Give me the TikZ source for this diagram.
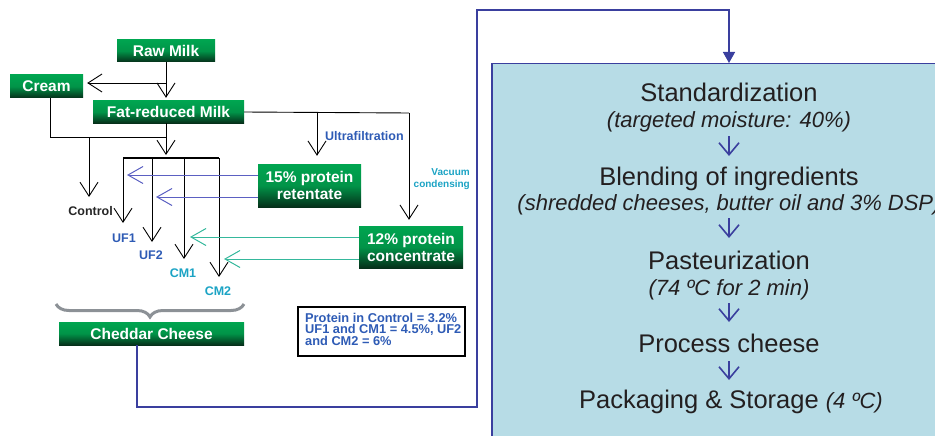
\documentclass[tikz,border=0pt]{standalone}
\usepackage{fontspec}
\setmainfont{Liberation Sans}
\usetikzlibrary{arrows.meta,decorations.pathreplacing}
\definecolor{gtop}{HTML}{00A550}
\definecolor{gbot}{HTML}{05301A}
\definecolor{lblue}{HTML}{2E5BB5}
\definecolor{lcyan}{HTML}{1BA3C4}
\definecolor{ablue}{HTML}{5B60C2}
\definecolor{ateal}{HTML}{35B89C}
\definecolor{conblue}{HTML}{3A3F9E}
\definecolor{boxfill}{HTML}{B7DCE6}
\definecolor{txt}{HTML}{231F20}
\definecolor{bracegray}{HTML}{8C9196}
\tikzset{
  gbox/.style={rectangle, top color=gtop, bottom color=gbot, middle color=gtop!85!gbot,
    text=white, font=\fontsize{15.5}{17}\selectfont\bfseries, inner sep=0pt, align=center},
  varr/.style={draw=black, line width=0.9pt, -{Straight Barb[length=14pt,width=18pt,line width=0.9pt]}},
  plain/.style={draw=black, line width=0.9pt},
  barr/.style={draw=ablue, line width=1pt, -{Straight Barb[length=15pt,width=17pt,line width=1pt]}},
  tarr/.style={draw=ateal, line width=1pt, -{Straight Barb[length=15pt,width=17pt,line width=1pt]}},
  parr/.style={draw=conblue, line width=1.6pt, -{Straight Barb[length=12pt,width=20pt,line width=1.6pt]}},
  small/.style={font=\fontsize{12.5}{13}\selectfont\bfseries, inner sep=0pt},
  tiny/.style={font=\fontsize{10}{12}\selectfont\bfseries, inner sep=0pt},
  big/.style={font=\fontsize{25.5}{28}\selectfont, text=txt, inner sep=0pt, anchor=base},
  sub/.style={font=\fontsize{22}{24}\selectfont\itshape, text=txt, inner sep=0pt, anchor=base},
}
\begin{document}
\begin{tikzpicture}[x=1pt,y=-1pt]
\useasboundingbox (0,0) rectangle (935,436);
% process box
\node[draw=conblue, line width=1.5pt, fill=boxfill, anchor=north west, minimum width=460pt, minimum height=390pt, inner sep=0pt] (proc) at (491,63) {};
\coordinate (pin) at (729,63);
% green boxes
\node[gbox, minimum width=98pt, minimum height=22pt] (raw) at (166,51) {Raw Milk};
\node[gbox, minimum width=73pt, minimum height=23pt] (cream) at (46.5,86.5) {Cream};
\node[gbox, minimum width=151pt, minimum height=22pt] (fat) at (168.5,112) {Fat-reduced Milk};
\node[gbox, minimum width=103pt, minimum height=43pt] (ret) at (309.5,185.5) {15\% protein\\retentate};
\node[gbox, minimum width=104pt, minimum height=42pt] (conc) at (411,247) {12\% protein\\concentrate};
\node[gbox, minimum width=185pt, minimum height=23pt] (ched) at (151.5,333.5) {Cheddar Cheese};
% coordinates
\coordinate (j1) at (166,83);
\coordinate (c1) at (50,137);
\coordinate (j2) at (166,137);
\coordinate (jc) at (89,137);
\coordinate (b1) at (123,158);
\coordinate (b2) at (152,158);
\coordinate (b3) at (184,158);
\coordinate (b4) at (219,158);
\coordinate (f1) at (317,113);
\coordinate (f2) at (409,113);
% black connectors
\draw[varr, shorten >=3pt] (raw.south -| j1) -- (fat.north -| j1);
\draw[varr, shorten >=4pt] (j1) -- (cream.east |- j1);
\draw[plain] (cream.south -| c1) -- (c1) -- (j2);
\draw[varr, shorten >=3pt] (fat.south -| j2) -- (b1 -| j2);
\draw[varr] (jc) -- (89,197);
\draw[plain, line width=1.2pt] (b1) -- (b4);
\draw[varr] (b1) -- (123,223);
\draw[varr] (b2) -- (152,242);
\draw[varr] (b3) -- (184,259);
\draw[varr] (b4) -- (219,277);
\draw[plain] (fat.east) -- (f2);
\draw[varr, shorten >=8pt] (f1) -- (f1 |- ret.north);
\draw[varr, shorten >=6pt] (f2) -- (f2 |- conc.north);
% coloured arrows
\draw[barr] (ret.west |- 0,175) -- (127,175);
\draw[barr] (ret.west |- 0,197) -- (156,197);
\draw[tarr] (conc.west |- 0,237) -- (190,237);
\draw[tarr] (conc.west |- 0,259) -- (224,259);
% labels
\node[small, anchor=west, text=lblue] (uflab) at (325,136) {Ultrafiltration};
\node[tiny, anchor=east, align=right, text=lcyan] (vclab) at (470,179) {Vacuum\\condensing};
\node[small, anchor=east, text=black!85] (ctl) at (113,211) {Control};
\node[small, text=lblue] (uf1) at (124,238) {UF1};
\node[small, text=lblue] (uf2) at (151,255) {UF2};
\node[small, text=lcyan] (cm1) at (183,273) {CM1};
\node[small, text=lcyan] (cm2) at (218,291) {CM2};
% brace
\draw[draw=bracegray, line width=3pt, decorate, decoration={brace, amplitude=13pt, aspect=0.5}] (244,304) -- (56,304);
% info box
\node[draw=black, line width=2pt, minimum width=167pt, minimum height=49pt, inner sep=0pt] (info) at (381.5,331.5) {};
\node[anchor=north west, inner sep=0pt, align=left, text=lblue,
  font=\fontsize{12.8}{11}\selectfont\bfseries] (infotext) at (305,313) {Protein in Control = 3.2\%\\UF1 and CM1 = 4.5\%, UF2\\and CM2 = 6\%};
% connector to process box
\draw[draw=conblue, line width=1.5pt, -{Triangle[length=11pt,width=12pt]}] (ched.south -| 137,0) -- (137,407) -- (477,407) -- (477,10) -- (729,10) -- (pin);
% process texts
\node[big] (s1) at (729,102) {Standardization};
\node[sub] (s1s) at (729,128) {(targeted moisture: 40\%)};
\node[big] (s2) at (729,185) {Blending of ingredients};
\node[sub] (s2s) at (729,210) {(shredded cheeses, butter oil and 3\% DSP)};
\node[big] (s3) at (729,269) {Pasteurization};
\node[sub] (s3s) at (729,295) {(74 ºC for 2 min)};
\node[big] (s4) at (729,352) {Process cheese};
\node[big] (s5) at (731,408) {Packaging \& Storage {\fontsize{22}{24}\selectfont\itshape (4 ºC)}};
\coordinate (a1t) at (729,136); \coordinate (a1b) at (729,156);
\coordinate (a2t) at (729,218); \coordinate (a2b) at (729,238);
\coordinate (a3t) at (729,303); \coordinate (a3b) at (729,322);
\coordinate (a4t) at (729,361); \coordinate (a4b) at (729,380);
\draw[parr] (a1t) -- (a1b);
\draw[parr] (a2t) -- (a2b);
\draw[parr] (a3t) -- (a3b);
\draw[parr] (a4t) -- (a4b);
\end{tikzpicture}
\end{document}
